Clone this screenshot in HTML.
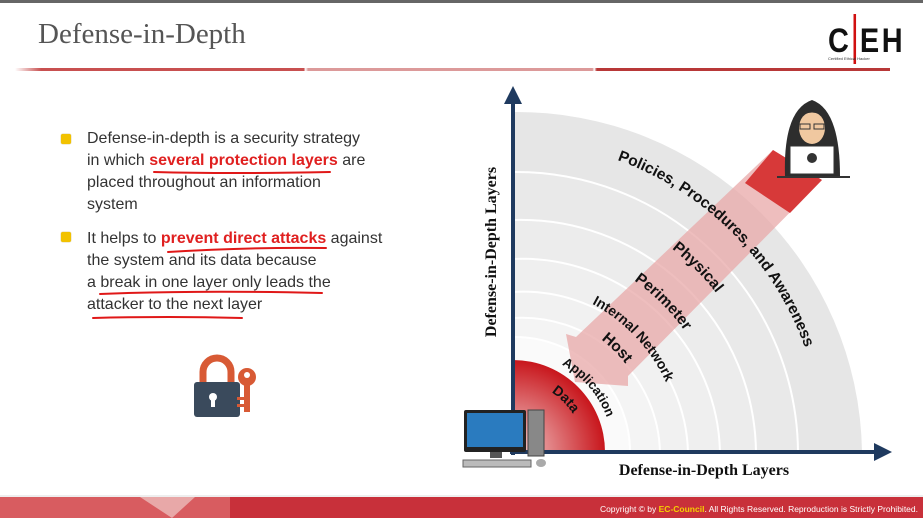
<!DOCTYPE html>
<html><head><meta charset="utf-8"><style>
body{margin:0;width:923px;height:518px;overflow:hidden;background:#fff;position:relative;font-family:"Liberation Sans",sans-serif}
.t{position:absolute;left:87px;font-size:16px;color:#333;line-height:22px;white-space:nowrap}
.r{color:#e02020;font-weight:bold}
.b{position:absolute;left:61px;width:10px;height:10px;background:#f2c200;border-radius:2px;box-shadow:0 0 1px #a80}
</style></head><body>
<div style="position:absolute;left:0;top:0;width:923px;height:3px;background:#666"></div>
<div style="position:absolute;left:38px;top:18px;font-family:'Liberation Serif',serif;font-size:29px;color:#555">Defense-in-Depth</div>
<div style="position:absolute;left:15px;top:68px;width:875px;height:3px;background:linear-gradient(90deg,#fff,#c85050 3%,#c85050 33%,#fff 33.2%,#dc9a9a 33.5%,#dc9a9a 66%,#fff 66.2%,#b83838 66.5%)"></div>
<div style="position:absolute;left:828px;top:14px;font:bold 34px 'Liberation Sans Narrow','Liberation Sans',sans-serif;color:#111;letter-spacing:3px;transform:scaleX(0.85);transform-origin:left">C<span style="display:inline-block;width:3px;height:50px;background:#d01010;vertical-align:-12px;margin:0 5px 0 2px"></span>EH</div>
<div style="position:absolute;left:828px;top:56px;font-size:4px;color:#333">Certified Ethical Hacker</div>

<div class="b" style="top:134px"></div>
<div class="t" style="top:128px">Defense-in-depth is a security strategy<br>in which <span class="r">several protection layers</span> are<br>placed throughout an information<br>system</div>
<div class="b" style="top:232px"></div>
<div class="t" style="top:228px">It helps to <span class="r">prevent direct attacks</span> against<br>the system and its data because<br>a break in one layer only leads the<br>attacker to the next layer</div>
<svg style="position:absolute;left:0;top:0" width="923" height="518">
<g stroke="#e01818" stroke-width="2" fill="none" stroke-linecap="round">
<path d="M154 172 Q230 174 330 172"/><path d="M168 252 Q250 247 326 248"/><path d="M100 294 Q200 290 322 293"/><path d="M93 318 Q170 316 242 318"/>
</g>
<path d="M203 384 V372 a14 14 0 0 1 28 0 V384" fill="none" stroke="#d85a35" stroke-width="7"/>
<rect x="194" y="382" width="46" height="35" rx="3" fill="#3a4a5c"/>
<circle cx="213" cy="397" r="4" fill="#fff"/><rect x="211" y="398" width="4" height="9" fill="#fff"/>
<circle cx="247" cy="377" r="9" fill="#d85a35"/><circle cx="247" cy="375" r="3" fill="#fff"/>
<rect x="244" y="384" width="6" height="28" fill="#d85a35"/><rect x="237" y="397" width="8" height="3" fill="#d85a35"/><rect x="237" y="404" width="8" height="3" fill="#d85a35"/>

<g>
<path d="M513 452 L513 112 A345 345 0 0 1 862 452 Z" fill="#e6e6e6"/>
<path d="M513 452 L513 172 A282 282 0 0 1 798 452 Z" fill="#e9e9e9" stroke="#fff" stroke-width="2"/>
<path d="M513 452 L513 220 A235 235 0 0 1 756 452 Z" fill="#ececec" stroke="#fff" stroke-width="2"/>
<path d="M513 452 L513 259 A198 198 0 0 1 720 452 Z" fill="#efefef" stroke="#fff" stroke-width="2"/>
<path d="M513 452 L513 292 A165 165 0 0 1 688 452 Z" fill="#f1f1f1" stroke="#fff" stroke-width="2"/>
<path d="M513 452 L513 318 A138 138 0 0 1 660 452 Z" fill="#f4f4f4" stroke="#fff" stroke-width="2"/>
<path d="M513 452 L513 337 A115 115 0 0 1 630 452 Z" fill="#fafafa" stroke="#fff" stroke-width="2"/>
<defs><radialGradient id="rg" cx="513" cy="452" r="92" gradientUnits="userSpaceOnUse"><stop offset="0" stop-color="#f4d0d0"/><stop offset="1" stop-color="#c8161c"/></radialGradient></defs>
<path d="M513 452 L513 360 A92 92 0 0 1 605 452 Z" fill="url(#rg)"/>
</g>
<polygon points="773,150 822,180 628,376 628,386 575,382 566,334 576,337" fill="#e8a8a8" opacity="0.75"/>
<polygon points="773,150 822,180 790,213 745,183" fill="#d42a2a" opacity="0.9"/>
<line x1="513" y1="455" x2="513" y2="100" stroke="#1f3a5f" stroke-width="4"/>
<polygon points="504,104 513,86 522,104" fill="#1f3a5f"/>
<line x1="510" y1="452" x2="878" y2="452" stroke="#1f3a5f" stroke-width="4"/>
<polygon points="874,443 892,452 874,461" fill="#1f3a5f"/>
<text x="0" y="0" transform="translate(496,252) rotate(-90)" text-anchor="middle" font-family="Liberation Serif,serif" font-weight="bold" font-size="16" fill="#111">Defense-in-Depth Layers</text>
<text x="704" y="475" text-anchor="middle" font-family="Liberation Serif,serif" font-weight="bold" font-size="16" fill="#111">Defense-in-Depth Layers</text>
<defs>
<path id="a1" d="M513 142 A310 310 0 0 1 823 452"/>
<path id="a2" d="M513 194 A258 258 0 0 1 771 452"/>
<path id="a3" d="M513 242 A210 210 0 0 1 723 452"/>
<path id="a4" d="M513 284 A168 168 0 0 1 681 452"/>
<path id="a5" d="M513 309 A143 143 0 0 1 656 452"/>
<path id="a6" d="M513 352 A100 100 0 0 1 613 452"/>
<path id="a7" d="M513 381 A71 71 0 0 1 584 452"/>
</defs>
<g font-family="Liberation Sans,sans-serif" font-weight="bold" font-size="15.5" fill="#111" text-anchor="middle">
<text><textPath href="#a1" startOffset="50%">Policies, Procedures, and Awareness</textPath></text>
<text><textPath href="#a2" startOffset="50%">Physical</textPath></text>
<text><textPath href="#a3" startOffset="50%">Perimeter</textPath></text>
<text font-size="14"><textPath href="#a4" startOffset="52%">Internal Network</textPath></text>
<text><textPath href="#a5" startOffset="50%">Host</textPath></text>
<text font-size="13"><textPath href="#a6" startOffset="55%">Application</textPath></text>
<text font-size="14"><textPath href="#a7" startOffset="50%">Data</textPath></text>
</g>
<path d="M785 176 Q783 110 812 100 Q840 110 840 176 Z" fill="#2d2d2d"/>
<ellipse cx="812" cy="128" rx="13" ry="16" fill="#f0c8a0"/>
<path d="M797 120 Q812 105 827 120 L827 113 Q812 98 797 113Z" fill="#2d2d2d"/>
<rect x="800" y="124" width="10" height="5" fill="none" stroke="#333"/><rect x="814" y="124" width="10" height="5" fill="none" stroke="#333"/>
<rect x="790" y="146" width="44" height="28" fill="#fff" stroke="#333"/>
<circle cx="812" cy="158" r="5" fill="#333"/>
<line x1="777" y1="177" x2="850" y2="177" stroke="#333" stroke-width="2"/>
<rect x="464" y="410" width="62" height="42" rx="2" fill="#222"/>
<rect x="467" y="413" width="56" height="34" fill="#2a7bbf"/>
<rect x="490" y="452" width="12" height="6" fill="#555"/>
<rect x="528" y="410" width="16" height="46" fill="#888" stroke="#444"/>
<rect x="463" y="460" width="68" height="7" fill="#bbb" stroke="#666"/>
<ellipse cx="541" cy="463" rx="5" ry="4" fill="#aaa"/>
<rect x="0" y="497" width="923" height="21" fill="#c8303a"/>
<rect x="0" y="497" width="230" height="21" fill="#d85c60"/>
<polygon points="140,497 195,497 172,518" fill="#e8a8a8"/>
<rect x="0" y="495" width="923" height="2" fill="#eee"/>
<text x="918" y="512" text-anchor="end" font-family="Liberation Sans Narrow,Liberation Sans,sans-serif" font-size="8.5" fill="#fff">Copyright © by <tspan fill="#f5d000" font-weight="bold">EC-Council</tspan>. All Rights Reserved. Reproduction is Strictly Prohibited.</text>
</svg>
</body></html>
